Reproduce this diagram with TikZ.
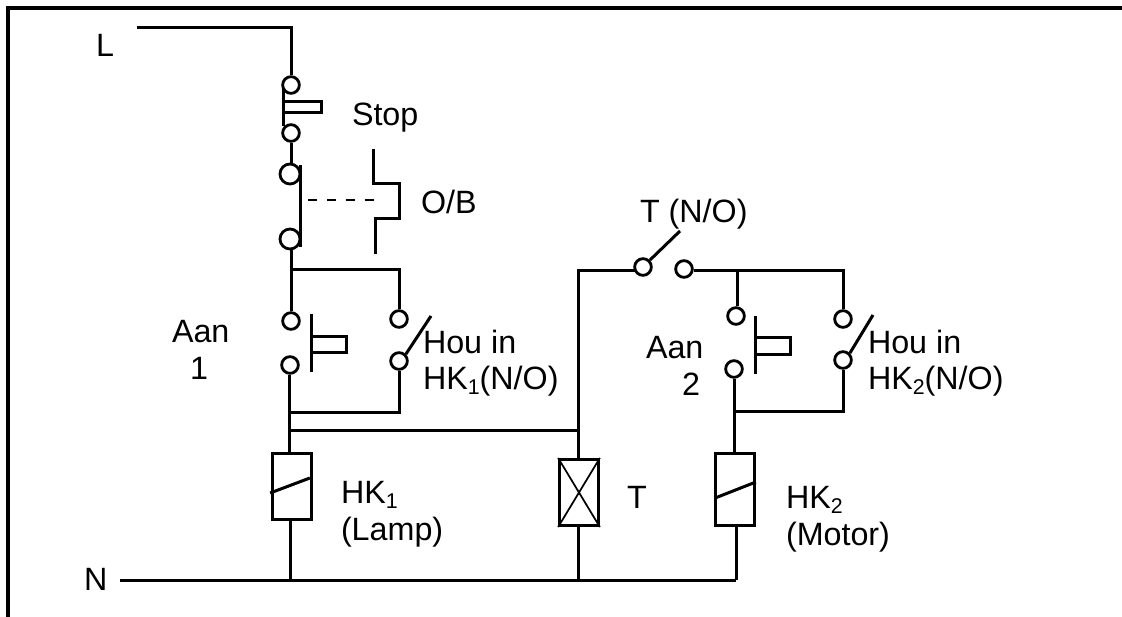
\documentclass[tikz,border=0pt]{standalone}
\usepackage{fontspec}
\usetikzlibrary{calc}
\setmainfont{Liberation Sans}
\newcommand{\lowidx}[1]{\raisebox{-0.17em}{\fontsize{16}{16}\selectfont #1}}
\tikzset{
  wire/.style={line width=2.25pt,line join=miter},
  frameline/.style={line width=3.6pt},
  fine/.style={line width=1.3pt},
  contact/.style={circle,draw,fill=white,line width=2.1pt,minimum size=12.5pt,inner sep=0pt},
  bigcontact/.style={contact,minimum size=15pt},
  coil/.style={rectangle,draw,line width=2.3pt,inner sep=0pt,minimum width=29pt,fill=white},
  lab/.style={anchor=base west,inner sep=0pt,outer sep=0pt,font=\fontsize{24.2}{28}\selectfont},
}
\begin{document}
\begin{tikzpicture}[x=0.75pt,y=-0.75pt]
\useasboundingbox (0,0) rectangle (1122,617);
\fill[white] (0,0) rectangle (1122,617);
% frame
\coordinate (fa) at (8,617); \coordinate (fb) at (8,8); \coordinate (fc) at (1122,8);
\draw[frameline] (fa) -- (fb) -- (fc);
% junctions
\coordinate (Lstart) at (137,28); \coordinate (Lcorner) at (291,28);
\coordinate (j1) at (291,269); \coordinate (j1r) at (399,269);
\coordinate (j2) at (289,412); \coordinate (j2r) at (399,412);
\coordinate (j3) at (289,430); \coordinate (j3r) at (578,430);
\coordinate (Nstart) at (120,580); \coordinate (Nend) at (736,580);
\coordinate (n1) at (290,580); \coordinate (nt) at (578,580);
\coordinate (tc) at (578,270);
\coordinate (j4) at (737,270); \coordinate (j4r) at (843,270);
\coordinate (j5) at (734,411); \coordinate (j5r) at (843,411);
% coils
\node[coil,minimum height=49.5pt] (c1) at (292,486.5) {};
\node[coil,minimum height=49.5pt] (ct) at (579,492.5) {};
\node[coil,minimum height=54pt] (c2) at (735,489.5) {};
% contacts
\node[contact] (s1) at (291,85) {};
\node[contact] (s2) at (291,133) {};
\node[bigcontact] (ob1) at (290,174) {};
\node[bigcontact] (ob2) at (290,239) {};
\node[contact] (a1t) at (291,321) {};
\node[contact] (a1b) at (290,365) {};
\node[contact] (h1t) at (399,319) {};
\node[contact] (h1b) at (399,361) {};
\node[contact] (tl) at (643,267) {};
\node[contact] (tr) at (684,269) {};
\node[contact] (a2t) at (736,316) {};
\node[contact] (a2b) at (734,369) {};
\node[contact] (h2t) at (843,319) {};
\node[contact] (h2b) at (843,360) {};
% free points of the switch symbols
\coordinate (sa) at (283,88); \coordinate (sb) at (283,126);
\coordinate (sc) at (283,102); \coordinate (sd) at (321,102); \coordinate (se) at (321,113); \coordinate (sf) at (283,113);
\coordinate (oa) at (300,165); \coordinate (ob) at (300,247);
\coordinate (da) at (308,200); \coordinate (db) at (376,200);
\coordinate (b1) at (373,149); \coordinate (b2) at (373,183); \coordinate (b3) at (399,183);
\coordinate (b4) at (399,218); \coordinate (b5) at (375,218); \coordinate (b6) at (375,254);
\coordinate (p1a) at (311,314); \coordinate (p1b) at (311,372);
\coordinate (p1c) at (311,336); \coordinate (p1d) at (346,336); \coordinate (p1e) at (346,352); \coordinate (p1f) at (311,352);
\coordinate (p2a) at (755,316); \coordinate (p2b) at (755,374);
\coordinate (p2c) at (755,337); \coordinate (p2d) at (790,337); \coordinate (p2e) at (790,354); \coordinate (p2f) at (755,354);
\coordinate (h1arm) at (431,316); \coordinate (h2arm) at (873,315);
\coordinate (tarm) at (680,231);
% wiring
\draw[wire] (Lstart) -- (Lcorner) -- (s1.north);
\draw[wire] (s2.south) -- (s2.south |- ob1.north);
\draw[wire] (j1 |- ob2.south) -- (j1) -- (a1t.north);
\draw[wire] (j1) -- (j1r) -- (h1t.north);
\draw[wire] (j2 |- a1b.south) -- (j2) -- (j3) -- (j3 |- c1.north);
\draw[wire] (h1b.south) -- (j2r) -- (j2);
\draw[wire] (j3) -- (j3r);
\draw[wire] (n1 |- c1.south) -- (n1);
\draw[wire] (Nstart) -- (Nend);
\draw[wire] (tl.south west |- tc) -- (tc) -- (tc |- ct.north);
\draw[wire] (nt |- ct.south) -- (nt);
\draw[wire] (tr.east |- tc) -- (j4) -- (j4r) -- (j4r |- h2t.north);
\draw[wire] (j4) -- (j4 |- a2t.north);
\draw[wire] (a2b.south) -- (j5) -- (j5 |- c2.north);
\draw[wire] (h2b.south) -- (j5r) -- (j5);
\draw[wire] (Nend |- c2.south) -- (Nend);
% switch symbols
\draw[wire] (sa) -- (sb);
\draw[wire] (sc) -- (sd) -- (se) -- (sf);
\draw[wire] (oa) -- (ob);
\draw[wire,dash pattern=on 6.8pt off 7.4pt,line width=1.8pt] (da) -- (db);
\draw[wire] (b1) -- (b2) -- (b3) -- (b4) -- (b5) -- (b6);
\draw[wire] (p1a) -- (p1b);
\draw[wire] (p1c) -- (p1d) -- (p1e) -- (p1f);
\draw[wire] (p2a) -- (p2b);
\draw[wire] (p2c) -- (p2d) -- (p2e) -- (p2f);
\draw[wire] (h1b.north east) -- (h1arm);
\draw[wire] (h2b.north east) -- (h2arm);
\draw[wire] (tl.north east) -- (tarm);
% coil marks
\draw[wire] ($(c1.west)+(-1,6.5)$) -- ($(c1.east)+(-3,-8.5)$);
\draw[wire] ($(c2.west)+(1,8.5)$) -- ($(c2.east)+(0,-7.5)$);
\draw[fine] (ct.north west) -- (ct.south east);
\draw[fine] (ct.north east) -- (ct.south west);
% labels
\node[lab] (tL) at (96,57) {L};
\node[lab] (tN) at (84,590) {N};
\node[lab] (tStop) at (352,126) {Stop};
\node[lab] (tOB) at (421,213) {O/B};
\node[lab] (tTNO) at (640,222) {T (N/O)};
\node[lab] (tAan1) at (172,342) {Aan};
\node[lab] (tOne) at (190,379) {1};
\node[lab] (tHou1) at (423,353) {Hou in};
\node[lab] (tHK1NO) at (423,389) {HK\lowidx{1}(N/O)};
\node[lab] (tHK1) at (341,503) {HK\lowidx{1}};
\node[lab] (tLamp) at (341,540) {(Lamp)};
\node[lab] (tT) at (627,508) {T};
\node[lab] (tAan2) at (646,358) {Aan};
\node[lab] (tTwo) at (682,395) {2};
\node[lab] (tHou2) at (868,353) {Hou in};
\node[lab] (tHK2NO) at (868,389) {HK\lowidx{2}(N/O)};
\node[lab] (tHK2) at (786,508) {HK\lowidx{2}};
\node[lab] (tMotor) at (786,545) {(Motor)};
\end{tikzpicture}
\end{document}
